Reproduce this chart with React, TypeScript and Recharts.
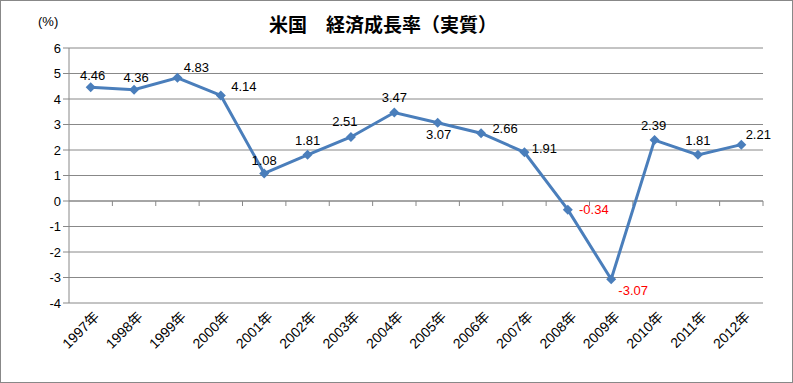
import { CartesianGrid, LabelList, Line, LineChart, ReferenceLine, XAxis, YAxis } from "recharts";

const YEARS = [
  "1997年", "1998年", "1999年", "2000年", "2001年", "2002年", "2003年", "2004年",
  "2005年", "2006年", "2007年", "2008年", "2009年", "2010年", "2011年", "2012年"
];
const GROWTH = [4.46, 4.36, 4.83, 4.14, 1.08, 1.81, 2.51, 3.47, 3.07, 2.66, 1.91, -0.34, -3.07, 2.39, 1.81, 2.21];
const Y_TICKS = [-4, -3, -2, -1, 0, 1, 2, 3, 4, 5, 6];

// where each data label sits relative to its marker (dx, dy)
const LABEL_OFFSETS: [number, number][] = [
  [2, -12], [2, -12], [19, -10], [23, -9], [0, -13], [0, -14], [-6, -15], [0, -15],
  [1, 12], [24, -5], [20, -4], [26, 0], [22, 11], [-1, -15], [0, -14], [17, -10]
];

const LINE_COLOR = "#4A7EBB";
const GRID = "#888888";
const FONT = "'Liberation Sans', 'Noto Sans CJK JP', sans-serif";
const HALF_STEP = 21.7;

const data = YEARS.map((year, i) => ({ year, value: GROWTH[i] }));

const Diamond = (props: any) => {
  const { cx, cy } = props;
  if (cx == null || cy == null) return null;
  const r = 5;
  return <polygon points={`${cx},${cy - r} ${cx + r},${cy} ${cx},${cy + r} ${cx - r},${cy}`} fill={LINE_COLOR} />;
};

const PointLabel = (props: any) => {
  const { x, y, value, index } = props;
  const [dx, dy] = LABEL_OFFSETS[index] ?? [0, -12];
  return (
    <text
      x={x + dx}
      y={y + dy}
      textAnchor="middle"
      dominantBaseline="central"
      fontSize={13}
      fontFamily={FONT}
      fill={value < 0 ? "#FF0000" : "#000"}
    >
      {value.toFixed(2)}
    </text>
  );
};

const YearTick = (props: any) => {
  const { x, y, payload } = props;
  return (
    <g transform={`translate(${x + 6},${y + 3})`}>
      <text textAnchor="end" transform="rotate(-45)" fontSize={14} fontFamily={FONT} fill="#000" dy={5}>
        {payload.value}
      </text>
    </g>
  );
};

// x axis drawn at zero, with tick marks between categories
const ZeroAxis = (props: any) => {
  const { x1, x2, y1 } = props;
  if (x1 == null) return null;
  const step = (x2 - x1) / YEARS.length;
  return (
    <g>
      <line x1={x1} x2={x2} y1={y1} y2={y1} stroke={GRID} strokeWidth={1} />
      {YEARS.map((_, i) => (
        <line key={i} x1={x1 + step * (i + 1)} x2={x1 + step * (i + 1)} y1={y1} y2={y1 + 5} stroke={GRID} />
      ))}
    </g>
  );
};

export default function App() {
  return (
    <div
      style={{
        position: "absolute",
        left: 0,
        top: 0,
        width: 793,
        height: 383,
        boxSizing: "border-box",
        border: "1px solid #888",
        background: "#fff",
        fontFamily: FONT
      }}
    >
      <div style={{ position: "absolute", left: 0, width: 764, top: 9, textAlign: "center", fontSize: 19, fontWeight: "bold", fontFamily: "'Noto Sans CJK JP', sans-serif" }}>
        米国　経済成長率（実質）
      </div>
      <div style={{ position: "absolute", left: 37, top: 13, fontSize: 13 }}>(%)</div>
      <div style={{ position: "absolute", left: -1, top: -1 }}>
        <LineChart width={793} height={383} data={data} margin={{ top: 48, right: 30, bottom: 0, left: 0 }}>
          <CartesianGrid vertical={false} stroke={GRID} strokeDasharray="" />
          <XAxis
            dataKey="year"
            axisLine={false}
            tickLine={false}
            interval={0}
            height={80}
            padding={{ left: HALF_STEP, right: HALF_STEP }}
            tick={<YearTick />}
          />
          <YAxis
            domain={[-4, 6]}
            ticks={Y_TICKS}
            interval={0}
            width={69}
            axisLine={{ stroke: GRID }}
            tickLine={{ stroke: GRID }}
            tick={{ fontSize: 13, fill: "#000", fontFamily: FONT }}
          />
          <ReferenceLine y={0} shape={<ZeroAxis />} />
          <Line
            type="linear"
            dataKey="value"
            stroke={LINE_COLOR}
            strokeWidth={3}
            dot={<Diamond />}
            activeDot={false}
            isAnimationActive={false}
          >
            <LabelList dataKey="value" content={<PointLabel />} />
          </Line>
        </LineChart>
      </div>
    </div>
  );
}
